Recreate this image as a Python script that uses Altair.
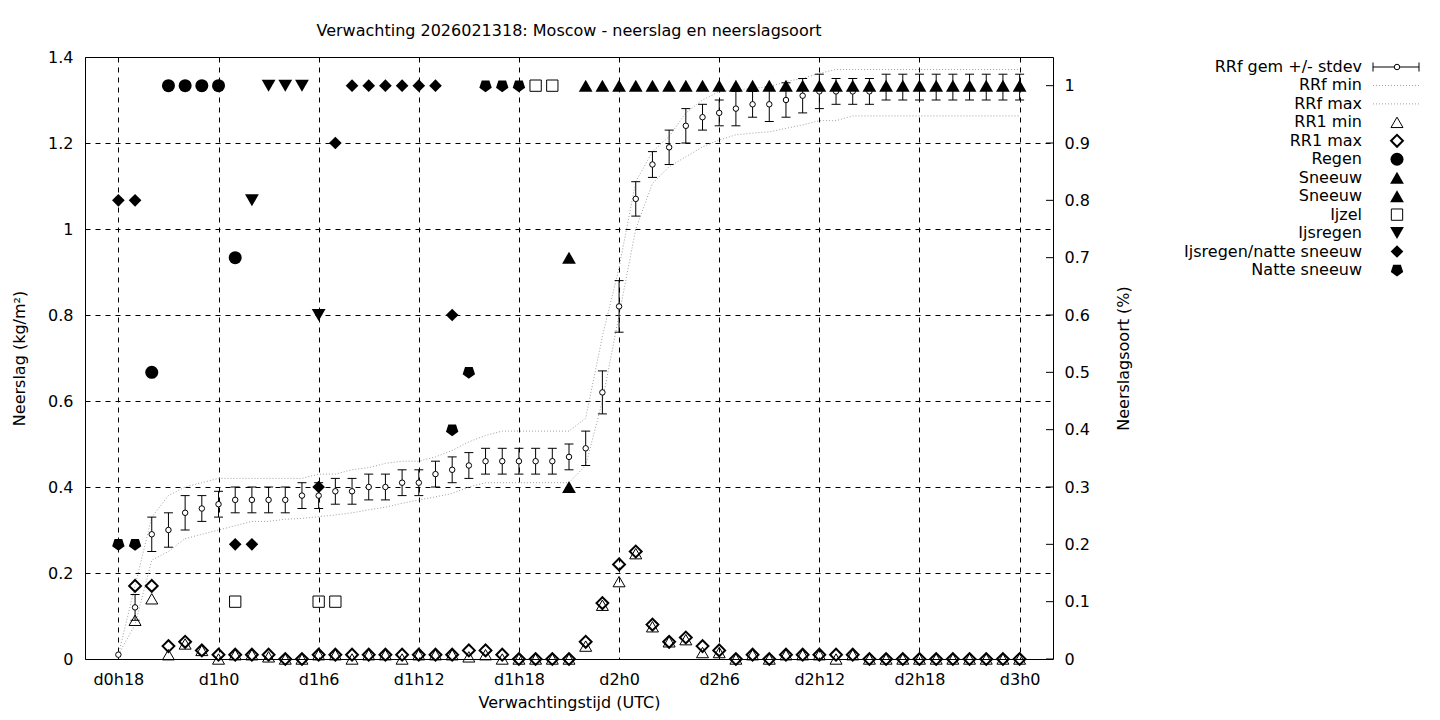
import altair as alt
import pandas as pd

# ---------------- data ----------------
hours = list(range(18, 73))

rrf_mean = [0.01, 0.12, 0.29, 0.30, 0.34, 0.35, 0.36, 0.37, 0.37, 0.37,
            0.37, 0.38, 0.38, 0.39, 0.39, 0.40, 0.40, 0.41, 0.41, 0.43,
            0.44, 0.45, 0.46, 0.46, 0.46, 0.46, 0.46, 0.47, 0.49, 0.62,
            0.82, 1.07, 1.15, 1.19, 1.24, 1.26, 1.27, 1.28, 1.29, 1.29,
            1.30, 1.31, 1.32, 1.32, 1.32, 1.32,
            1.33, 1.33, 1.33, 1.33, 1.33, 1.33, 1.33, 1.33, 1.33]

rrf_sd = [0.0, 0.03, 0.04, 0.04, 0.04, 0.03, 0.03, 0.03, 0.03, 0.03,
          0.03, 0.03, 0.03, 0.03, 0.03, 0.03, 0.03, 0.03, 0.03, 0.03,
          0.03, 0.03, 0.03, 0.03, 0.03, 0.03, 0.03, 0.03, 0.04, 0.05,
          0.06, 0.04, 0.03, 0.04, 0.04, 0.03, 0.03, 0.04, 0.03, 0.04,
          0.04, 0.04, 0.04, 0.03, 0.03, 0.03,
          0.03, 0.03, 0.03, 0.03, 0.03, 0.03, 0.03, 0.03, 0.03]

rrf_min = [0.01, 0.08, 0.23, 0.25, 0.28, 0.29, 0.30, 0.31, 0.32, 0.32,
           0.325, 0.327, 0.331, 0.335, 0.34, 0.347, 0.353, 0.362, 0.37, 0.377,
           0.385, 0.40, 0.41, 0.41, 0.41, 0.41, 0.41, 0.41, 0.45, 0.60,
           0.80, 1.00, 1.106, 1.145, 1.168, 1.191, 1.207, 1.219, 1.223, 1.226,
           1.234, 1.242, 1.252, 1.252,
           1.263, 1.263, 1.263, 1.263, 1.263, 1.263, 1.263, 1.263, 1.263, 1.263, 1.263]

rrf_max = [0.01, 0.17, 0.33, 0.38, 0.40, 0.41, 0.42, 0.42, 0.42, 0.42,
           0.42, 0.42, 0.43, 0.43, 0.44, 0.445, 0.455, 0.46, 0.46, 0.47,
           0.485, 0.505, 0.52, 0.53, 0.53, 0.53, 0.53, 0.53, 0.56, 0.75,
           0.91, 1.11, 1.18, 1.215, 1.27, 1.30, 1.32, 1.323, 1.327, 1.331,
           1.343, 1.35, 1.362,
           1.371, 1.371, 1.371, 1.371, 1.371, 1.371, 1.371, 1.371, 1.371, 1.371, 1.371, 1.371]

rr1_min = [None, 0.09, 0.14, 0.01, 0.035, 0.02, 0.0, 0.01, 0.01, 0.005,
           0.0, 0.0, 0.01, 0.01, 0.0, 0.01, 0.01, 0.0, 0.01, 0.01,
           0.01, 0.005, 0.01, 0.0, 0.0, 0.0, 0.0, 0.0, 0.03, 0.125,
           0.18, 0.245, 0.075, 0.04, 0.045, 0.015, 0.015, 0.0, 0.01, 0.0,
           0.01, 0.01, 0.01, 0.0, 0.01,
           0.0, 0.0, 0.0, 0.0, 0.0, 0.0, 0.0, 0.0, 0.0, 0.0]

rr1_max = [None, 0.17, 0.17, 0.03, 0.04, 0.02, 0.01, 0.01, 0.01, 0.01,
           0.0, 0.0, 0.01, 0.01, 0.01, 0.01, 0.01, 0.01, 0.01, 0.01,
           0.01, 0.02, 0.02, 0.01, 0.0, 0.0, 0.0, 0.0, 0.04, 0.13,
           0.22, 0.25, 0.08, 0.04, 0.05, 0.03, 0.02, 0.0, 0.01, 0.0,
           0.01, 0.01, 0.01, 0.01, 0.01,
           0.0, 0.0, 0.0, 0.0, 0.0, 0.0, 0.0, 0.0, 0.0, 0.0]

# precipitation type fractions (right axis)
regen_h = [20, 21, 22, 23, 24, 25]
regen_v = [0.5, 1, 1, 1, 1, 0.7]
sneeuw_h = [45] + list(range(46, 73))
sneeuw_v = [0.7] + [1.0] * 27
sneeuw2_h = [45]
sneeuw2_v = [0.3]
ijzel_h = [25, 30, 31, 43, 44]
ijzel_v = [0.1, 0.1, 0.1, 1, 1]
ijsregen_h = [26, 27, 28, 29, 30]
ijsregen_v = [0.8, 1, 1, 1, 0.6]
ijsnat_h = [18, 19, 25, 26, 30, 31, 32, 33, 34, 35, 36, 37, 38]
ijsnat_v = [0.8, 0.8, 0.2, 0.2, 0.3, 0.9, 1, 1, 1, 1, 1, 1, 0.6]
natte_h = [18, 19, 38, 39, 40, 41, 42]
natte_v = [0.2, 0.2, 0.4, 0.5, 1, 1, 1]

x_ticks = [18, 24, 30, 36, 42, 48, 54, 60, 66, 72]
yl_ticks = [0, 0.2, 0.4, 0.6, 0.8, 1, 1.2, 1.4]
yr_ticks = [0, 0.1, 0.2, 0.3, 0.4, 0.5, 0.6, 0.7, 0.8, 0.9, 1]

legend_labels = ["RRf gem +/- stdev", "RRf min", "RRf max", "RR1 min", "RR1 max",
                 "Regen", "Sneeuw", "Sneeuw", "Ijzel", "Ijsregen",
                 "Ijsregen/natte sneeuw", "Natte sneeuw"]

TITLE = "Verwachting 2026021318: Moscow - neerslag en neerslagsoort"
FONT = "DejaVu Sans"
FS = 16
W, H = 968, 602

PENTAGON = "M0,1L0.951,0.309L0.588,-0.809L-0.588,-0.809L-0.951,0.309Z"
STYLES = {
    "rr1min": dict(shape="triangle-up", size=144, filled=False, strokeWidth=1),
    "rr1max": dict(shape="diamond", size=140, filled=False, strokeWidth=2),
    "regen": dict(shape="circle", size=169, filled=True),
    "sneeuw": dict(shape="triangle-up", size=190, filled=True),
    "ijzel": dict(shape="square", size=128, filled=False, strokeWidth=1),
    "ijsregen": dict(shape="triangle-down", size=190, filled=True),
    "ijsnat": dict(shape="diamond", size=160, filled=True),
    "natte": dict(shape=PENTAGON, size=170, filled=True),
}

# ---------------- tables ----------------
df = pd.DataFrame({
    "h": hours, "mean": rrf_mean, "sd": rrf_sd,
    "mn": rrf_min, "mx": rrf_max, "r1min": rr1_min, "r1max": rr1_max,
})
df["lo"] = df["mean"] - df["sd"]
df["hi"] = df["mean"] + df["sd"]


def typedf(hs, vs):
    return pd.DataFrame({"h": hs, "v": vs})


x_scale = alt.Scale(domain=[16, 74], nice=False, zero=False)
yl_scale = alt.Scale(domain=[0, 1.4], nice=False, zero=False)
yr_scale = alt.Scale(domain=[0, 1.05], nice=False, zero=False)

common_axis = dict(labelFont=FONT, labelFontSize=FS, labelColor="black",
                   titleFont=FONT, titleFontSize=FS, titleFontWeight="normal",
                   titleColor="black", ticks=False, domain=False)

x_axis = alt.Axis(values=x_ticks,
                  labelExpr="'d' + floor(datum.value / 24) + 'h' + (datum.value % 24)",
                  title="Verwachtingstijd (UTC)", grid=True, gridColor="black",
                  gridDash=[5, 5], gridOpacity=1, gridWidth=1,
                  labelPadding=12, titlePadding=7, **common_axis)
yl_axis = alt.Axis(values=yl_ticks, format="~g", title="Neerslag (kg/m²)",
                   grid=True, gridColor="black", gridDash=[5, 5], gridOpacity=1,
                   gridWidth=1, labelPadding=12, titlePadding=20, **common_axis)
yr_axis = alt.Axis(values=yr_ticks, format="~g", title="Neerslagsoort (%)",
                   orient="right", grid=False, labelPadding=11, titlePadding=42,
                   titleAngle=270, **common_axis)


def X(field):
    # same axis definition on every layer so the shared axes merge cleanly
    return alt.X(f"{field}:Q", scale=x_scale, axis=x_axis)


def YL(field, axis=None):
    return alt.Y(f"{field}:Q", scale=yl_scale, axis=axis)


def YR(field, axis=None):
    return alt.Y(f"{field}:Q", scale=yr_scale, axis=axis)


def pt(key):
    st = dict(STYLES[key])
    if st["filled"]:
        return dict(st, color="black", opacity=1, strokeWidth=0)
    return dict(st, color="black", opacity=1)


base = alt.Chart(df)
bars_df = base.transform_filter("datum.sd > 0")

layers = []
layers.append(base.mark_line(color="#a0a0a0", strokeDash=[1, 2], strokeWidth=1).encode(
    x=X("h"), y=YL("mn", yl_axis)))
layers.append(base.mark_line(color="#a0a0a0", strokeDash=[1, 2], strokeWidth=1).encode(
    x=X("h"), y=YL("mx")))
layers.append(bars_df.mark_rule(color="black", strokeWidth=1).encode(
    x=X("h"), y=YL("lo"), y2="hi:Q"))
layers.append(bars_df.mark_tick(orient="horizontal", size=9, thickness=1, color="black",
                                opacity=1).encode(x=X("h"), y=YL("hi")))
layers.append(bars_df.mark_tick(orient="horizontal", size=9, thickness=1, color="black",
                                opacity=1).encode(x=X("h"), y=YL("lo")))
layers.append(base.mark_point(shape="circle", size=30, filled=True, fill="white",
                              stroke="black", strokeWidth=1, opacity=1).encode(
    x=X("h"), y=YL("mean")))
layers.append(base.transform_filter("isValid(datum.r1min)").mark_point(**pt("rr1min")).encode(
    x=X("h"), y=YL("r1min")))
layers.append(base.transform_filter("isValid(datum.r1max)").mark_point(**pt("rr1max")).encode(
    x=X("h"), y=YL("r1max")))

for key, hs, vs in [("regen", regen_h, regen_v), ("sneeuw", sneeuw_h, sneeuw_v),
                    ("sneeuw", sneeuw2_h, sneeuw2_v), ("ijzel", ijzel_h, ijzel_v),
                    ("ijsregen", ijsregen_h, ijsregen_v), ("ijsnat", ijsnat_h, ijsnat_v),
                    ("natte", natte_h, natte_v)]:
    layers.append(alt.Chart(typedf(hs, vs)).mark_point(**pt(key)).encode(
        x=X("h"), y=YR("v")))

# right axis with inward ticks
layers.append(alt.Chart(pd.DataFrame({"v": yr_ticks})).mark_rule(
    color="black", strokeWidth=1).encode(
    x=alt.value(W - 7), x2=alt.value(W), y=YR("v", yr_axis)))

# ---------------- legend (gnuplot style: label right-aligned, key on the right) ----------------
leg = pd.DataFrame({"idx": list(range(len(legend_labels))), "label": legend_labels})
LY = alt.Y("idx:Q", scale=alt.Scale(domain=[0, 11], range=[10, 213]), axis=None)
LX_TEXT = 1277
LX_SYM = 1312
LX0, LX1 = 1288, 1334
lbase = alt.Chart(leg)
layers.append(lbase.mark_text(align="right", baseline="middle", font=FONT, fontSize=FS,
                              color="black").encode(x=alt.value(LX_TEXT), y=LY, text="label:N"))
row0 = lbase.transform_filter("datum.idx == 0")
layers.append(row0.mark_rule(color="black").encode(x=alt.value(LX0), x2=alt.value(LX1), y=LY))
layers.append(row0.mark_tick(orient="vertical", size=9, thickness=1, color="black",
                             opacity=1).encode(x=alt.value(LX0), y=LY))
layers.append(row0.mark_tick(orient="vertical", size=9, thickness=1, color="black",
                             opacity=1).encode(x=alt.value(LX1), y=LY))
layers.append(row0.mark_point(shape="circle", size=30, filled=True, fill="white",
                              stroke="black", strokeWidth=1, opacity=1).encode(
    x=alt.value(LX_SYM), y=LY))
layers.append(lbase.transform_filter("datum.idx == 1 || datum.idx == 2").mark_rule(
    color="#a0a0a0", strokeDash=[1, 2]).encode(x=alt.value(LX0), x2=alt.value(LX1), y=LY))
leg_keys = ["rr1min", "rr1max", "regen", "sneeuw", "sneeuw", "ijzel", "ijsregen",
            "ijsnat", "natte"]
for i, k in enumerate(leg_keys):
    layers.append(lbase.transform_filter(f"datum.idx == {i + 3}").mark_point(**pt(k)).encode(
        x=alt.value(LX_SYM), y=LY))

chart = alt.layer(*layers).resolve_scale(y="independent").properties(
    width=W, height=H,
    title=alt.TitleParams(TITLE, font=FONT, fontSize=FS, fontWeight="normal",
                          color="black", anchor="middle", offset=10),
    autosize=alt.AutoSizeParams(type="none"),
    padding={"left": 77, "top": 49, "right": 370, "bottom": 53},
).configure(
    background="white",
    view=alt.ViewConfig(stroke="black", strokeWidth=1),
)

chart.save("out.html", embed_options={"renderer": "svg", "actions": False})
